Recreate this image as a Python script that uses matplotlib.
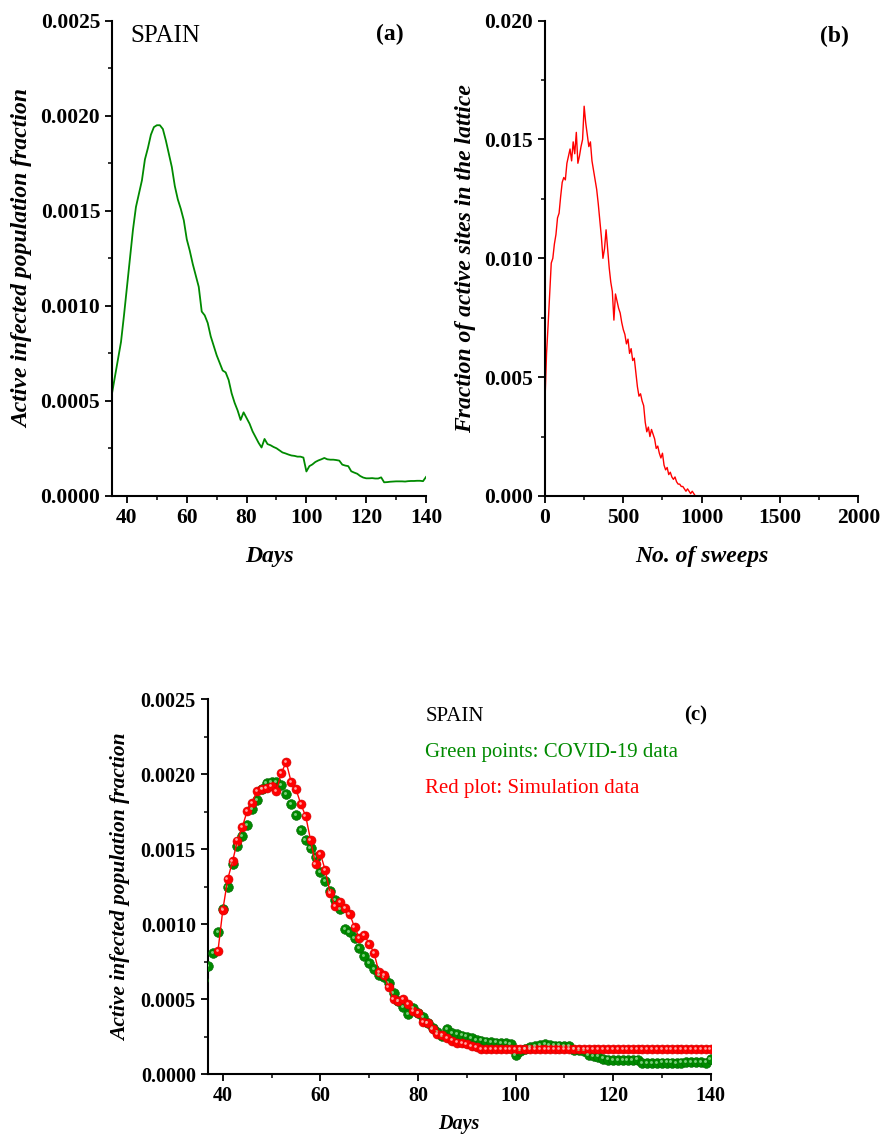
import numpy as np
import matplotlib.pyplot as plt
from matplotlib.ticker import MultipleLocator, FormatStrFormatter
from matplotlib.transforms import offset_copy

plt.rcParams['font.family'] = 'Liberation Serif'
plt.rcParams['font.weight'] = 'bold'

GREEN = '#008a00'
RED = '#ff0000'

# active infected population fraction, Spain (days 35..140)
covid_days = np.arange(35, 141)
covid_frac = [
    0.00054, 0.00063, 0.00072, 0.00081, 0.00095, 0.00110, 0.00125, 0.00140,
    0.00152, 0.00159, 0.00166, 0.00177, 0.00183, 0.00190, 0.00194, 0.00195,
    0.00195, 0.00193, 0.00187, 0.00180, 0.00173, 0.00163, 0.00156, 0.00151,
    0.00145, 0.00135, 0.00129, 0.00122, 0.00116, 0.00110, 0.00097, 0.00095,
    0.00091, 0.00084, 0.00079, 0.00074, 0.00070, 0.00066, 0.00065, 0.00061,
    0.00054, 0.00049, 0.00045, 0.00040, 0.00044, 0.00041, 0.00038, 0.00034,
    0.00031, 0.00028, 0.000255, 0.00030, 0.000273, 0.000267, 0.000258, 0.000251,
    0.00024, 0.000229, 0.000224, 0.000218, 0.000213, 0.000211, 0.000207, 0.000207,
    0.000202, 0.000129, 0.000157, 0.000166, 0.000179, 0.000187, 0.000193, 0.000200,
    0.000193, 0.000191, 0.000191, 0.000189, 0.000186, 0.000165, 0.000160, 0.000157,
    0.000130, 0.000123, 0.000117, 0.000105, 0.000097, 0.000093, 0.000093, 0.000094,
    0.000092, 0.000092, 0.000098, 0.000072, 0.000073, 0.000075, 0.000076, 0.000077,
    0.000077, 0.000077, 0.000076, 0.000078, 0.000079, 0.000079, 0.000080, 0.000080,
    0.000078, 0.000100,
]

# simulated fraction mapped onto days (39..140)
sim_days = np.arange(39, 141)
sim_frac = [
    0.00082, 0.001095, 0.00130, 0.00142, 0.001557, 0.00165, 0.001755, 0.00181,
    0.00189, 0.00190, 0.00191, 0.00192, 0.00189, 0.00201, 0.00208, 0.00195,
    0.00190, 0.00180, 0.00172, 0.00156, 0.00140, 0.00147, 0.00136, 0.00121,
    0.00112, 0.00115, 0.00111, 0.00107, 0.00098, 0.00091, 0.00093, 0.00087,
    0.00081, 0.00068, 0.00066, 0.00058, 0.00050, 0.00049, 0.00050, 0.00047,
    0.00042, 0.00041, 0.00035, 0.00034, 0.00030, 0.00027, 0.00026, 0.00024,
    0.000224, 0.000211, 0.000207, 0.000200, 0.000189, 0.000180, 0.000168, 0.000168,
    0.000168, 0.000168, 0.000168, 0.000168, 0.000168, 0.000168, 0.000168, 0.000168,
    0.000168, 0.000168, 0.000168, 0.000168, 0.000168, 0.000168, 0.000168, 0.000168,
    0.000168, 0.000168, 0.000168, 0.000168, 0.000168, 0.000168, 0.000168, 0.000168,
    0.000168, 0.000168, 0.000168, 0.000168, 0.000168, 0.000168, 0.000168, 0.000168,
    0.000168, 0.000168, 0.000168, 0.000168, 0.000168, 0.000168, 0.000168, 0.000168,
    0.000168, 0.000168, 0.000168, 0.000168, 0.000168, 0.000168,
]

# lattice run: fraction of active sites vs sweeps
sweeps = np.arange(0, 980, 10)
active_sites = [
    0.0040, 0.0060, 0.0072, 0.0085, 0.0098, 0.0100, 0.0106, 0.0110, 0.0117, 0.0119,
    0.0126, 0.0132, 0.0134, 0.0133, 0.0140, 0.0143, 0.0146, 0.0141, 0.0149, 0.0144,
    0.0153, 0.0140, 0.0143, 0.0147, 0.0150, 0.0164, 0.0157, 0.0152, 0.0147, 0.0149,
    0.0141, 0.0137, 0.0133, 0.0129, 0.0123, 0.0116, 0.0109, 0.0100, 0.0104, 0.0112,
    0.0104, 0.0096, 0.0090, 0.0086, 0.0074, 0.0085, 0.0082, 0.0079, 0.0077, 0.0073,
    0.0070, 0.0068, 0.0064, 0.0066, 0.0060, 0.0062, 0.0057, 0.0058, 0.0052, 0.0046,
    0.0042, 0.0043, 0.0040, 0.0038, 0.0031, 0.0027, 0.0029, 0.0025, 0.0028, 0.0026,
    0.0024, 0.0020, 0.0021, 0.0018, 0.0016, 0.0018, 0.0013, 0.0011, 0.0012, 0.0009,
    0.0010, 0.0008, 0.0007, 0.0008, 0.0006, 0.0005, 0.0005, 0.0004, 0.0004, 0.0003,
    0.0002, 0.0003, 0.0002, 0.0001, 0.0002, 0.0001, 0.0000, 0.0000,
]


def style_axes(ax, xmaj, xmin, ymaj, ymin, fs):
    for side in ('top', 'right'):
        ax.spines[side].set_visible(False)
    for side in ('left', 'bottom'):
        ax.spines[side].set_linewidth(1.5)
    ax.xaxis.set_major_locator(MultipleLocator(xmaj))
    ax.xaxis.set_minor_locator(MultipleLocator(xmin))
    ax.yaxis.set_major_locator(MultipleLocator(ymaj))
    ax.yaxis.set_minor_locator(MultipleLocator(ymin))
    ax.tick_params(which='major', direction='out', length=5, width=1.3, labelsize=fs)
    ax.tick_params(which='minor', direction='out', length=3, width=1.1)


def spheres(ax, x, y, color, edge, shine, ms):
    ax.plot(x, y, 'o', color=color, ms=ms, mec=edge, mew=0.4, zorder=3)
    glint = offset_copy(ax.transData, fig=ax.figure, x=-0.9, y=0.9, units='points')
    ax.plot(x, y, 'o', color=shine, ms=ms * 0.3, mew=0, alpha=0.8,
            transform=glint, zorder=4)


label_font = dict(family='Liberation Serif', weight='bold', style='italic')

fig = plt.figure(figsize=(8.8, 11.35), dpi=100)

# (a) data curve
ax1 = fig.add_axes([0.1273, 0.5630, 0.3568, 0.4188])
ax1.plot(covid_days, covid_frac, color=GREEN, lw=1.3)
ax1.set_xlim(35, 140)
ax1.set_ylim(0, 0.0025)
style_axes(ax1, 20, 10, 0.0005, 0.00025, 15.5)
ax1.yaxis.set_major_formatter(FormatStrFormatter('%.4f'))
ax1.set_xlabel('Days', fontsize=17, fontdict=label_font, labelpad=13)
ax1.set_ylabel('Active infected population fraction', fontsize=17,
               fontdict=label_font, labelpad=5)
ax1.text(0.057, 0.968, 'SPAIN', transform=ax1.transAxes, fontsize=18,
         fontweight='normal', va='center', ha='left')
ax1.text(0.884, 0.972, '(a)', transform=ax1.transAxes, fontsize=17,
         va='center', ha='center')

# (b) lattice simulation
ax2 = fig.add_axes([0.6193, 0.5630, 0.3560, 0.4188])
ax2.plot(sweeps, active_sites, color=RED, lw=1.0)
ax2.set_xlim(0, 2000)
ax2.set_ylim(0, 0.020)
style_axes(ax2, 500, 250, 0.005, 0.0025, 15.5)
ax2.yaxis.set_major_formatter(FormatStrFormatter('%.3f'))
ax2.set_xlabel('No. of sweeps', fontsize=17, fontdict=label_font, labelpad=13)
ax2.set_ylabel('Fraction of active sites in the lattice', fontsize=17,
               fontdict=label_font, labelpad=6)
ax2.text(0.925, 0.966, '(b)', transform=ax2.transAxes, fontsize=17,
         va='center', ha='center')

# (c) data vs simulation
ax3 = fig.add_axes([0.2360, 0.0535, 0.5716, 0.3304])
spheres(ax3, covid_days, covid_frac, GREEN, '#006400', '#9be09b', 7.0)
ax3.plot(sim_days, sim_frac, color=RED, lw=1.0, zorder=4)
spheres(ax3, sim_days, sim_frac, RED, '#d00000', '#ffd0d0', 6.5)
ax3.set_xlim(36.9, 140)
ax3.set_ylim(0, 0.0025)
style_axes(ax3, 20, 10, 0.0005, 0.00025, 14.5)
ax3.yaxis.set_major_formatter(FormatStrFormatter('%.4f'))
ax3.set_xlabel('Days', fontsize=14.5, fontdict=label_font, labelpad=6)
ax3.set_ylabel('Active infected population fraction', fontsize=15.5,
               fontdict=label_font, labelpad=7)
ax3.text(0.4326, 0.9536, 'SPAIN', transform=ax3.transAxes, fontsize=15,
         fontweight='normal', va='center', ha='left')
ax3.text(0.4326, 0.858, 'Green points: COVID-19 data', transform=ax3.transAxes,
         fontsize=15, fontweight='normal', color=GREEN, va='center', ha='left')
ax3.text(0.4326, 0.763, 'Red plot: Simulation data', transform=ax3.transAxes,
         fontsize=15, fontweight='normal', color=RED, va='center', ha='left')
ax3.text(0.971, 0.958, '(c)', transform=ax3.transAxes, fontsize=15,
         va='center', ha='center')

fig.savefig('out.png', dpi=100)
